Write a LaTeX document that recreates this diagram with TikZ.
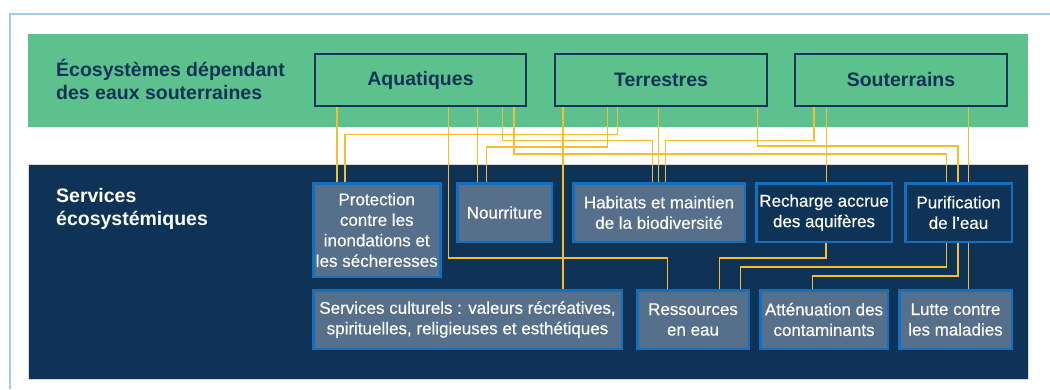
\documentclass[tikz,border=0pt]{standalone}
\usepackage{fontspec}
\setmainfont{Liberation Sans}
\newfontfamily\medfont[FakeBold=0.4]{Liberation Sans}
\definecolor{ecogreen}{HTML}{5DC18E}
\definecolor{navy}{HTML}{0E3356}
\definecolor{slate}{HTML}{566F8A}
\definecolor{edgeblue}{HTML}{1370BE}
\definecolor{gold}{HTML}{F6BD2C}
\definecolor{framebl}{HTML}{A9C9E9}
\pgfdeclarelayer{back}
\pgfdeclarelayer{mid}
\pgfsetlayers{back,mid,main}
\tikzset{
  topbox/.style={draw=navy, line width=2pt, fill=ecogreen, text=navy,
    font=\fontsize{19.5}{23}\selectfont\bfseries, inner sep=0pt, minimum height=52pt},
  svc/.style={draw=edgeblue, line width=2.6pt, fill=slate, text=white,
    font=\medfont\fontsize{17}{20.5}\selectfont, align=center, inner sep=1pt},
  svcdark/.style={svc, fill=navy},
  bandtitle/.style={font=\fontsize{19.5}{23.3}\selectfont\bfseries, align=left, inner sep=0pt},
  link/.style={draw=gold, line width=1.5pt},
}
\begin{document}
\begin{tikzpicture}[x=1pt, y=-1pt]
\useasboundingbox (0,0) rectangle (1050,389);
% frame and bands
\begin{pgfonlayer}{back}
\draw[framebl, line width=1.2pt] (10,389) -- (10,14) -- (1050,14);
\fill[ecogreen] (28,34) rectangle (1028,127);
\filldraw[fill=navy, draw=black!15, line width=0.6pt] (28,164) rectangle (1028,379);
\end{pgfonlayer}
% titles
\node[bandtitle, text=navy, anchor=base west] (t1) at (56,99.3) {Écosystèmes dépendant\\des eaux souterraines};
\node[bandtitle, text=white, anchor=base west] (t2) at (56,225.3) {Services\\écosystémiques};
% ecosystem boxes
\node[topbox, minimum width=211pt] (Aq) at (420.5,80) {Aquatiques};
\node[topbox, minimum width=212pt] (Te) at (661,80) {Terrestres};
\node[topbox, minimum width=212pt] (So) at (901,80) {Souterrains};
% services row 1
\node[svc, minimum width=127.1pt, minimum height=93.6pt] (Pr) at (376.75,230) {Protection\\contre les\\inondations et\\les sécheresses};
\node[svc, minimum width=94.6pt, minimum height=58.6pt] (No) at (504.5,212.5) {Nourriture};
\node[svc, minimum width=171.6pt, minimum height=58.6pt] (Ha) at (659,212.5) {Habitats et maintien\\de la biodiversité};
\node[svcdark, minimum width=135.6pt, minimum height=58.6pt] (Re) at (824,212.5) {Recharge accrue\\des aquifères};
\node[svcdark, minimum width=106.6pt, minimum height=58.6pt] (Pu) at (958.5,212.5) {Purification\\de l’eau};
% services row 2
\node[svc, minimum width=308.6pt, minimum height=58.6pt] (Cu) at (467.5,319.5) {Services culturels : valeurs récréatives,\\spirituelles, religieuses et esthétiques};
\node[svc, minimum width=111.6pt, minimum height=58.6pt] (Rs) at (693,319.5) {Ressources\\en eau};
\node[svc, minimum width=127.6pt, minimum height=58.6pt] (At) at (824,319.5) {Atténuation des\\contaminants};
\node[svc, minimum width=112.6pt, minimum height=58.6pt] (Lu) at (955.5,319.5) {Lutte contre\\les maladies};
% connectors
\begin{pgfonlayer}{mid}
\draw[link] (Aq.south -| 337,0) -- (Pr.north -| 337,0);
\draw[link] (Aq.south -| 448.3,0) |- (667.7,258) -- (Rs.north -| 667.7,0);
\draw[link] (Aq.south -| 477.7,0) -- (No.north -| 477.7,0);
\draw[link] (Aq.south -| 502.7,0) |- (652.3,140.7) -- (Ha.north -| 652.3,0);
\draw[link] (Aq.south -| 514,0) |- (946.3,154) -- (Pu.north -| 946.3,0);
\draw[link] (Te.south -| 563,0) -- (Cu.north -| 563,0);
\draw[link] (Te.south -| 607.5,0) |- (486.7,147) -- (No.north -| 486.7,0);
\draw[link] (Te.south -| 617.5,0) |- (345,134.3) -- (Pr.north -| 345,0);
\draw[link] (Te.south -| 658.7,0) -- (Ha.north -| 658.7,0);
\draw[link] (Te.south -| 757.3,0) |- (957.8,146) -- (Pu.north -| 957.8,0);
\draw[link] (So.south -| 814.2,0) |- (665.5,140.7) -- (Ha.north -| 665.5,0);
\draw[link] (So.south -| 826.7,0) -- (Re.north -| 826.7,0);
\draw[link] (So.south -| 968.5,0) -- (Pu.north -| 968.5,0);
\draw[link] (Re.south -| 825.8,0) |- (719.7,257.8) -- (Rs.north -| 719.7,0);
\draw[link] (Pu.south -| 946.3,0) |- (740.3,267) -- (Rs.north -| 740.3,0);
\draw[link] (Pu.south -| 958,0) |- (812.3,276) -- (At.north -| 812.3,0);
\draw[link] (Pu.south -| 968.5,0) -- (Lu.north -| 968.5,0);
\end{pgfonlayer}
\end{tikzpicture}
\end{document}
